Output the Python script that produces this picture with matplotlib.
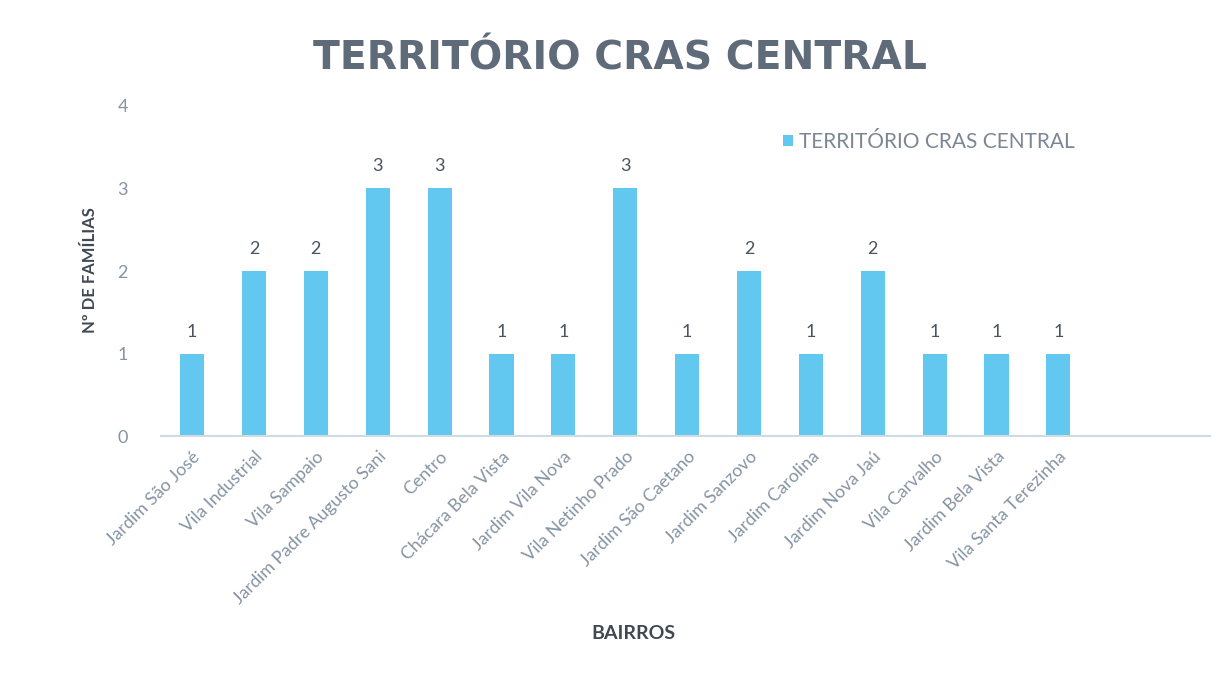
import matplotlib
matplotlib.use("Agg")
import matplotlib.pyplot as plt

categories = ["Jardim São José", "Vila Industrial", "Vila Sampaio", "Jardim Padre Augusto Sani",
              "Centro", "Chácara Bela Vista", "Jardim Vila Nova", "Vila Netinho Prado",
              "Jardim São Caetano", "Jardim Sanzovo", "Jardim Carolina", "Jardim Nova Jaú",
              "Vila Carvalho", "Jardim Bela Vista", "Vila Santa Terezinha"]
values = [1, 2, 2, 3, 3, 1, 1, 3, 1, 2, 1, 2, 1, 1, 1]
series_name = "TERRITÓRIO CRAS CENTRAL"
title = "TERRITÓRIO CRAS CENTRAL"
yticks = [0, 1, 2, 3, 4]

plt.rcParams['font.family'] = ['Lato', 'DejaVu Sans']

fig = plt.figure(figsize=(12.21, 6.75), dpi=100)
ax = fig.add_axes([0.132, 0.354, 0.859, 0.489])

bar_color = "#62C8EF"
x = list(range(len(categories)))
bars = ax.bar(x, values, width=0.39, color=bar_color, label=series_name)
for xi, v in zip(x, values):
    ax.text(xi, v + 0.17, str(v), ha="center", va="bottom", fontsize=13, color="#4a5360")

ax.set_xlim(-0.5, 16.45)
ax.set_ylim(0, 4)
ax.set_yticks(yticks)
ax.set_yticklabels([str(t) for t in yticks], fontsize=13, color="#8593a3")
ax.set_xticks(x)
ax.set_xticklabels(categories, rotation=45, ha="right", rotation_mode="anchor",
                   fontsize=12.8, color="#8593a3")
ax.tick_params(axis="both", length=0)
ax.tick_params(axis="y", pad=24)
ax.tick_params(axis="x", pad=9)
for s in ["top", "right", "left"]:
    ax.spines[s].set_visible(False)
ax.spines["bottom"].set_color("#cfdae4")
ax.spines["bottom"].set_linewidth(1.5)

fig.text(0.508, 0.913, title, ha="center", va="center", fontsize=28.3, fontweight="bold",
         color="#5f6b79", family=["DejaVu Sans"])
fig.text(0.074, 0.6, "Nº DE FAMÍLIAS", rotation=90, ha="center", va="center",
         fontsize=12, fontweight="bold", color="#3f4853")
fig.text(0.519, 0.061, "BAIRROS", ha="center", va="center", fontsize=14,
         fontweight="bold", color="#3f4853")

leg = ax.legend(loc="upper left", bbox_to_anchor=(0.575, 0.978), frameon=False,
                fontsize=15, handlelength=0.48, handleheight=0.48, handletextpad=0.3,
                labelcolor="#7b8794")

fig.savefig("out.png", dpi=100, facecolor="white")
